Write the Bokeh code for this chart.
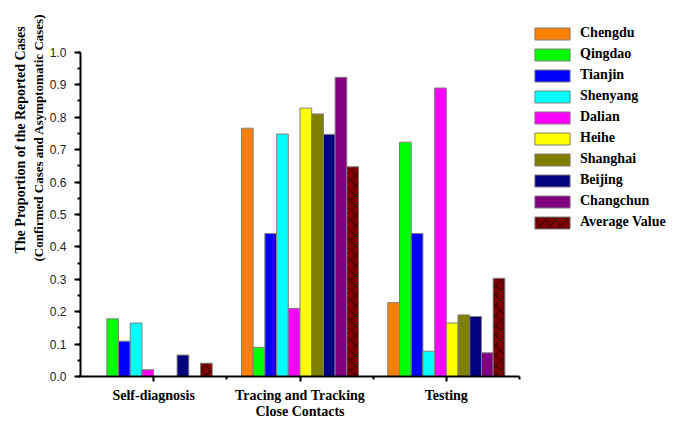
from bokeh.plotting import figure
from bokeh.models import (ColumnDataSource, Range1d, FixedTicker, SingleIntervalTicker,
                          NumeralTickFormatter, Legend, LegendItem, Title)
from bokeh.transform import dodge
from bokeh.embed import file_html
from bokeh.resources import INLINE

# Detection channels (x groups)
categories = ["Self-diagnosis", "Tracing and Tracking\nClose Contacts", "Testing"]

# Proportion of reported cases per city and channel
chengdu   = [0.0,   0.766, 0.228]
qingdao   = [0.178, 0.090, 0.723]
tianjin   = [0.109, 0.441, 0.441]
shenyang  = [0.165, 0.748, 0.078]
dalian    = [0.021, 0.210, 0.890]
heihe     = [0.0,   0.828, 0.165]
shanghai  = [0.0,   0.810, 0.190]
beijing   = [0.066, 0.747, 0.185]
changchun = [0.0,   0.923, 0.073]
average   = [0.041, 0.647, 0.303]

series_names = ["Chengdu", "Qingdao", "Tianjin", "Shenyang", "Dalian",
                "Heihe", "Shanghai", "Beijing", "Changchun", "Average Value"]
series_values = [chengdu, qingdao, tianjin, shenyang, dalian,
                 heihe, shanghai, beijing, changchun, average]
colors = ["#FF8000", "#00FF00", "#0000FF", "#00FFFF", "#FF00FF",
          "#FFFF00", "#808000", "#000080", "#800080", "#800000"]

SERIF = "Liberation Serif"
SANS = "Liberation Sans"

W, H = 687, 422
LEFT, BOTTOM = 80, 45          # space for the y and x axes
AX_RIGHT, AX_TOP = 519, 52     # pixel where the drawn axes end (x=3.5, y=1.0)

# The frame runs to the canvas edge so the legend fits inside it;
# the visible axes are limited with bounds.
x_px = (AX_RIGHT - LEFT) / 3.0
y_px = (H - BOTTOM - AX_TOP) / 1.0
x_end = 3.5 + (W - AX_RIGHT) / x_px
y_end = 1.0 + AX_TOP / y_px

data = {"x": [1, 2, 3]}
for i, vals in enumerate(series_values):
    data[f"s{i}"] = vals
source = ColumnDataSource(data)

p = figure(width=W, height=H, output_backend="svg", toolbar_location=None,
           x_range=Range1d(0.5, x_end), y_range=Range1d(0, y_end),
           min_border_left=LEFT, min_border_right=0,
           min_border_top=0, min_border_bottom=BOTTOM)
p.outline_line_color = None
p.grid.grid_line_color = None
p.background_fill_color = "white"
p.border_fill_color = "white"

bar_w = 0.08
items = []
n = len(series_names)
for i, name in enumerate(series_names):
    off = (i - (n - 1) / 2) * bar_w
    kw = {}
    if name == "Average Value":
        kw = dict(hatch_pattern="x", hatch_color="black", hatch_alpha=0.7,
                  hatch_scale=10, hatch_weight=1)
    r = p.vbar(x=dodge("x", off), top=f"s{i}", width=bar_w, source=source,
               fill_color=colors[i], line_color="#7f7f7f", line_width=1, **kw)
    items.append(LegendItem(label=name, renderers=[r]))

# x axis
xa = p.xaxis[0]
xa.bounds = (0.5, 3.5)
xa.ticker = FixedTicker(ticks=[1, 2, 3], minor_ticks=[1.5, 2.5, 3.5])
xa.major_label_overrides = {1: categories[0], 2: categories[1], 3: categories[2]}
xa.major_label_text_font = SERIF
xa.major_label_text_font_style = "bold"
xa.major_label_text_font_size = "14px"
xa.major_label_text_line_height = 1.13
xa.major_label_text_color = "black"
xa.major_label_standoff = 6
xa.axis_line_width = 2
xa.major_tick_line_width = 2
xa.minor_tick_line_width = 2
xa.major_tick_out = 5
xa.major_tick_in = 0
xa.minor_tick_out = 3
xa.minor_tick_in = 0

# y axis
ya = p.yaxis[0]
ya.bounds = (0, 1.0)
ya.ticker = SingleIntervalTicker(interval=0.1, num_minor_ticks=2)
ya.formatter = NumeralTickFormatter(format="0.0")
ya.major_label_text_font = SANS
ya.major_label_text_font_size = "12px"
ya.major_label_text_color = "#222222"
ya.major_label_standoff = 8
ya.axis_line_width = 2
ya.major_tick_line_width = 2
ya.minor_tick_line_width = 2
ya.major_tick_out = 6
ya.major_tick_in = 0
ya.minor_tick_out = 3
ya.minor_tick_in = 0

# y axis title, two lines (inner line added first so it sits nearer the axis)
for txt, off, gap, size in [("(Confirmed Cases and Asymptomatic Cases)", 115, 2, "13px"),
                            ("The Proportion of the Reported Cases", 123, 0, "14px")]:
    p.add_layout(Title(text=txt, align="left", offset=off, standoff=gap,
                       text_font=SERIF, text_font_style="bold",
                       text_font_size=size, text_color="black"), "left")

legend = Legend(items=items, location=(530 - LEFT, 146), padding=0, margin=0,
                spacing=5, glyph_width=44, glyph_height=15, label_height=15,
                label_standoff=6, border_line_color=None,
                background_fill_alpha=0,
                label_text_font=SERIF, label_text_font_style="bold",
                label_text_font_size="14px", label_text_color="black")
p.add_layout(legend, "center")

open("out.html", "w").write(file_html(p, INLINE))
